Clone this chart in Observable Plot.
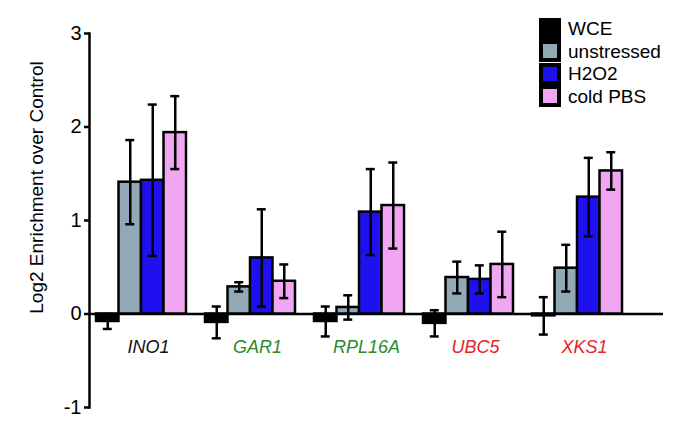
<!DOCTYPE html>
<html>
<head>
<meta charset="utf-8">
<script src="https://cdn.jsdelivr.net/npm/d3@7"></script>
<script src="https://cdn.jsdelivr.net/npm/@observablehq/plot@0.6"></script>
<style>
  body { margin: 0; background: #fff; }
  #wrap { position: relative; width: 685px; height: 437px; font-family: "Liberation Sans", Arial, Helvetica, sans-serif; }
  #legend { position: absolute; left: 541px; top: 18px; }
  #legend .lg-swatch { line-height: 21.5px !important; padding-bottom: 1px; }
  #legend .lg-swatch svg { margin-right: 9px !important; }
  #legend .lg-swatch svg rect { stroke: #000; stroke-width: 4px; }
</style>
</head>
<body>
<div id="wrap"><div id="chart"></div><div id="legend"></div></div>
<script>
const genes = ["INO1", "GAR1", "RPL16A", "UBC5", "XKS1"];
const geneColors = ["#111111", "#2a8a2a", "#2a8a2a", "#e8242a", "#e8242a"];
const conditions = ["WCE", "unstressed", "H2O2", "cold PBS"];
const condColors = ["#000000", "#91a9b4", "#1f10f0", "#f0a6f2"];

const wce = [-0.08, -0.09, -0.08, -0.10, -0.02];
const wceErr = [0.08, 0.17, 0.16, 0.14, 0.20];
const unstressed = [1.41, 0.29, 0.07, 0.39, 0.49];
const unstressedErr = [0.45, 0.05, 0.13, 0.17, 0.25];
const h2o2 = [1.43, 0.60, 1.09, 0.37, 1.25];
const h2o2Err = [0.81, 0.52, 0.46, 0.15, 0.42];
const coldPBS = [1.94, 0.35, 1.16, 0.53, 1.53];
const coldPBSErr = [0.39, 0.18, 0.46, 0.35, 0.20];
const yTicks = [-1, 0, 1, 2, 3];

const vals = [wce, unstressed, h2o2, coldPBS];
const errs = [wceErr, unstressedErr, h2o2Err, coldPBSErr];
const rows = [];
conditions.forEach((c, i) => genes.forEach((g, j) =>
  rows.push({gene: g, condition: c, ci: i, value: vals[i][j], err: errs[i][j]})));

const width = 685, height = 437;
const mL = 89, mR = 56, mT = 33, mB = 30;
const pInner = 0.177, pOuter = 0.057;
const step = (width - mL - mR) / (genes.length - pInner + 2 * pOuter);
const bw = step * (1 - pInner);
const slot = bw / 4;
const cap = 4.5;
const sw = 2.5;

const marks = [
  Plot.ruleY([0], {stroke: "#000", strokeWidth: sw, insetLeft: 0, insetRight: -34})
];
conditions.forEach((c, i) => {
  const sub = rows.filter(r => r.ci === i);
  marks.push(Plot.barY(sub, {x: "gene", y: "value", fill: condColors[i], stroke: "#000", strokeWidth: sw,
    insetLeft: i * slot, insetRight: (3 - i) * slot}));
});
conditions.forEach((c, i) => {
  const sub = rows.filter(r => r.ci === i);
  const cx = (i + 0.5) * slot;
  marks.push(Plot.ruleX(sub, {x: "gene", y1: d => d.value - d.err, y2: d => d.value + d.err,
    dx: cx - bw / 2, stroke: "#000", strokeWidth: sw}));
  marks.push(Plot.tickY(sub, {x: "gene", y: d => d.value + d.err, stroke: "#000", strokeWidth: sw,
    insetLeft: cx - cap, insetRight: bw - cx - cap}));
  marks.push(Plot.tickY(sub, {x: "gene", y: d => d.value - d.err, stroke: "#000", strokeWidth: sw,
    insetLeft: cx - cap, insetRight: bw - cx - cap}));
});
marks.push(Plot.text(genes, {x: d => d, y: d => 0, dy: 33, dx: 7, fontStyle: "italic", fontSize: 18,
  fill: d => geneColors[genes.indexOf(d)]}));
marks.push(Plot.axisY({ticks: yTicks, tickFormat: d => d, tickSize: 5, tickPadding: 3, fontSize: 20,
  strokeWidth: sw, label: null}));
marks.push(Plot.frame({anchor: "left", stroke: "#000", strokeWidth: sw}));
marks.push(Plot.text(["Log2 Enrichment over Control"], {frameAnchor: "left", textAnchor: "middle", rotate: -90,
  dx: -53, dy: -33, fontSize: 19, fill: "#000"}));

const chart = Plot.plot({
  width, height,
  marginLeft: mL, marginRight: mR, marginTop: mT, marginBottom: mB,
  style: {fontFamily: "'Liberation Sans', Arial, Helvetica, sans-serif", background: "#fff", color: "#000"},
  x: {type: "band", domain: genes, paddingInner: pInner, paddingOuter: pOuter, axis: null},
  y: {domain: [-1, 3], axis: null},
  color: {type: "identity"},
  marks
});
document.getElementById("chart").appendChild(chart);

const legend = Plot.legend({
  color: {domain: conditions, range: condColors},
  legend: "swatches", columns: 1, swatchSize: 18, className: "lg",
  style: {fontSize: "19px", fontFamily: "'Liberation Sans', Arial, sans-serif", color: "#000"}
});
document.getElementById("legend").appendChild(legend);
</script>
</body>
</html>
